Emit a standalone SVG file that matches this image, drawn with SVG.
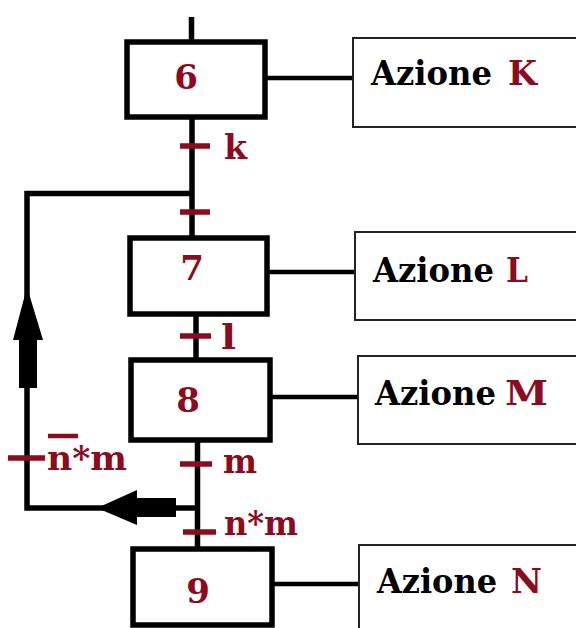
<svg xmlns="http://www.w3.org/2000/svg" width="576" height="628" viewBox="0 0 576 628">
<style>
.step{fill:#fff;stroke:#000;stroke-width:5.5}
.act{fill:#fff;stroke:#222;stroke-width:2}
.wire{fill:none;stroke:#000;stroke-width:5.5}
.link{fill:none;stroke:#000;stroke-width:4.5}
.tr{stroke:#8b0b1f;stroke-width:5.5}
.red{fill:#8b0b1f}
.t{font-family:"DejaVu Serif",serif;font-weight:bold;font-size:34px}
.blk{fill:#000}
.arr{fill:#000}
</style>
<rect width="576" height="628" fill="#fff"/>
<g id="connectors">
  <line class="wire" x1="191.5" y1="17" x2="191.5" y2="42"/>
  <line class="wire" x1="192" y1="117" x2="192" y2="238"/>
  <line class="wire" x1="196" y1="314" x2="196" y2="360"/>
  <line class="wire" x1="197.5" y1="440" x2="197.5" y2="549"/>
  <path class="wire" d="M197.5,508 H27 V193.5 H192"/>
  <line class="link" x1="265" y1="78" x2="353" y2="78"/>
  <line class="link" x1="267" y1="272" x2="355" y2="272"/>
  <line class="link" x1="270" y1="397" x2="358" y2="397"/>
  <line class="link" x1="272" y1="584" x2="359" y2="584"/>
  <path class="arr" d="M27,287 L43,340 L37,340 L37,388 L19,388 L19,340 L13,340 Z"/>
  <path class="arr" d="M97,508 L137,490 L137,498 L176,498 L176,517 L137,517 L137,525 Z"/>
  <line class="tr" x1="180" y1="146" x2="210" y2="146"/>
  <line class="tr" x1="180" y1="212" x2="210" y2="212"/>
  <line class="tr" x1="180" y1="336" x2="211" y2="336"/>
  <line class="tr" x1="180" y1="464" x2="212" y2="464"/>
  <line class="tr" x1="183" y1="532" x2="216" y2="532"/>
  <line class="tr" x1="8" y1="458" x2="45" y2="458"/>
  <text class="t red" x="224" y="159" textLength="23" lengthAdjust="spacingAndGlyphs">k</text>
  <text class="t red" x="221" y="349" textLength="15" lengthAdjust="spacingAndGlyphs">l</text>
  <text class="t red" x="223" y="473" textLength="34" lengthAdjust="spacingAndGlyphs">m</text>
  <text class="t red" x="224" y="535" textLength="74" lengthAdjust="spacingAndGlyphs">n*m</text>
  <text class="t red" x="47" y="470" textLength="80" lengthAdjust="spacingAndGlyphs">n*m</text>
  <line stroke="#8b0b1f" stroke-width="4.5" x1="48" y1="436" x2="78" y2="436"/>
</g>
<g id="step6">
  <rect class="step" x="127" y="42" width="138" height="75"/>
  <text class="t red" x="186" y="89" text-anchor="middle">6</text>
</g>
<g id="step7">
  <rect class="step" x="130" y="238" width="137" height="76"/>
  <text class="t red" x="192" y="280" text-anchor="middle">7</text>
</g>
<g id="step8">
  <rect class="step" x="131" y="360" width="139" height="80"/>
  <text class="t red" x="188" y="412" text-anchor="middle">8</text>
</g>
<g id="step9">
  <rect class="step" x="133" y="549" width="139" height="76"/>
  <text class="t red" x="198" y="603" text-anchor="middle">9</text>
</g>
<g id="actionK">
  <rect class="act" x="353" y="38" width="240" height="89"/>
  <text class="t blk" x="371" y="85" textLength="121" lengthAdjust="spacingAndGlyphs">Azione</text>
  <text class="t red" x="508" y="85" textLength="29" lengthAdjust="spacingAndGlyphs">K</text>
</g>
<g id="actionL">
  <rect class="act" x="355" y="232" width="240" height="88"/>
  <text class="t blk" x="373" y="282" textLength="121" lengthAdjust="spacingAndGlyphs">Azione</text>
  <text class="t red" x="506" y="282" textLength="22" lengthAdjust="spacingAndGlyphs">L</text>
</g>
<g id="actionM">
  <rect class="act" x="358" y="356" width="240" height="88"/>
  <text class="t blk" x="375" y="405" textLength="121" lengthAdjust="spacingAndGlyphs">Azione</text>
  <text class="t red" x="505" y="405" textLength="43" lengthAdjust="spacingAndGlyphs">M</text>
</g>
<g id="actionN">
  <rect class="act" x="359" y="545" width="240" height="100"/>
  <text class="t blk" x="377" y="593" textLength="120" lengthAdjust="spacingAndGlyphs">Azione</text>
  <text class="t red" x="511" y="593" textLength="31" lengthAdjust="spacingAndGlyphs">N</text>
</g>
</svg>
